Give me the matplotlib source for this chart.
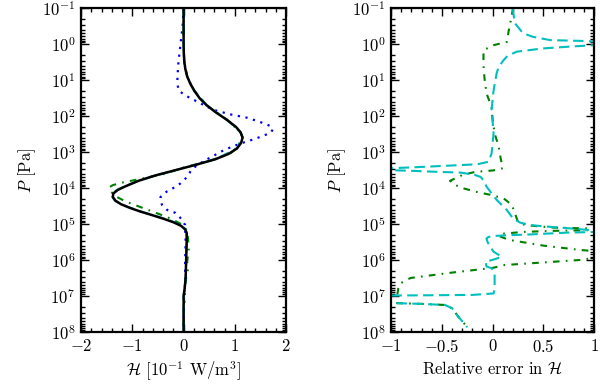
import numpy as np
import matplotlib
matplotlib.use("Agg")
import matplotlib.pyplot as plt
from matplotlib.ticker import MultipleLocator, FixedLocator, LogLocator, NullFormatter

plt.rcParams.update({
    "mathtext.fontset": "cm",
    "font.family": ["cmr10", "DejaVu Serif"],
    "axes.formatter.use_mathtext": True,
    "axes.unicode_minus": True,
    "font.size": 12,
})

# ---------------- data: left panel (heating rate, 1e-1 W/m^3) ----------------
ref_logp = [-1.0, -0.5, 0.0, 0.3, 0.5, 0.7, 0.9, 1.1, 1.3, 1.5, 1.7, 1.9, 2.1, 2.3,
            2.45, 2.6, 2.75, 2.9, 3.05, 3.2, 3.35, 3.5, 3.65, 3.8, 3.95, 4.05, 4.15,
            4.25, 4.35, 4.45, 4.55, 4.65, 4.75, 4.85, 4.95, 5.05, 5.15, 5.25, 5.5,
            6.0, 6.5, 6.8, 7.0, 7.5, 8.0]
ref_H = [0.0, 0.0, 0.0, 0.005, 0.015, 0.035, 0.07, 0.13, 0.21, 0.31, 0.45, 0.63, 0.84,
         1.02, 1.11, 1.15, 1.12, 1.04, 0.88, 0.62, 0.25, -0.15, -0.55, -0.88, -1.13,
         -1.28, -1.37, -1.38, -1.33, -1.22, -1.05, -0.85, -0.62, -0.40, -0.20, -0.05,
         0.03, 0.06, 0.06, 0.05, 0.04, 0.02, 0.0, 0.0, 0.0]

cyan_logp = [-1.0, 0.0, 0.5, 0.9, 1.3, 1.7, 2.1, 2.45, 2.6, 2.9, 3.2, 3.5, 3.65, 3.8,
             3.95, 4.05, 4.15, 4.25, 4.35, 4.45, 4.55, 4.65, 4.75, 4.85, 4.95, 5.05,
             5.15, 5.25, 5.5, 6.0, 6.5, 7.0, 8.0]
cyan_H = [0.0, 0.0, 0.015, 0.07, 0.21, 0.45, 0.84, 1.11, 1.15, 1.04, 0.62, -0.14, -0.54,
          -0.88, -1.14, -1.30, -1.38, -1.39, -1.34, -1.22, -1.04, -0.84, -0.60, -0.38,
          -0.18, -0.04, 0.04, 0.06, 0.06, 0.05, 0.04, 0.0, 0.0]

green_logp = [-1.0, 0.0, 0.5, 0.9, 1.3, 1.7, 2.1, 2.45, 2.6, 2.9, 3.05, 3.2, 3.35, 3.45,
              3.6, 3.67, 3.76, 3.84, 3.92, 3.98, 4.1, 4.25, 4.38, 4.53, 4.7, 4.85, 5.0,
              5.15, 5.3, 5.7, 6.05, 6.3, 6.5, 7.0, 8.0]
green_H = [0.0, 0.0, 0.015, 0.07, 0.21, 0.45, 0.84, 1.11, 1.15, 1.03, 0.9, 0.6, 0.22,
           -0.05, -0.35, -0.59, -0.88, -1.17, -1.38, -1.45, -1.42, -1.30, -1.12, -0.84,
           -0.52, -0.25, -0.05, 0.05, 0.08, 0.10, 0.07, 0.08, 0.05, 0.01, 0.0]

blue_logp = [-1.0, -0.5, 0.0, 0.5, 0.9, 1.1, 1.28, 1.42, 1.55, 1.7, 1.83, 1.95, 2.05,
             2.17, 2.28, 2.37, 2.46, 2.55, 2.64, 2.73, 2.83, 2.95, 3.1, 3.23, 3.37, 3.5,
             3.69, 3.87, 4.0, 4.1, 4.25, 4.35, 4.47, 4.61, 4.69, 4.8, 4.89, 5.03, 5.5,
             6.0, 6.5, 7.0, 7.5, 8.0]
blue_H = [0.0, -0.02, -0.06, -0.10, -0.12, -0.12, -0.10, 0.02, 0.20, 0.40, 0.59, 0.90,
          1.25, 1.50, 1.70, 1.74, 1.70, 1.55, 1.38, 1.18, 0.98, 0.78, 0.59, 0.42, 0.26,
          0.15, 0.07, -0.06, -0.20, -0.33, -0.45, -0.45, -0.42, -0.32, -0.16, -0.08,
          -0.03, 0.03, 0.04, 0.03, 0.03, 0.02, 0.0, 0.0]

# ---------------- data: right panel (relative error) ----------------
cyan_err_logp = [-1.0, -0.85, -0.58, -0.3, -0.2, -0.11, -0.09, -0.05, -0.01, 0.03, 0.07,
                 0.12, 0.21, 0.32, 0.44, 0.63, 0.81, 1.28, 1.83, 2.48, 3.04, 3.27, 3.34,
                 3.38, 3.42, 3.45, 3.47, 3.49, 3.52, 3.55, 3.57, 3.63, 3.69, 3.78, 3.96,
                 4.15, 4.33, 4.61, 4.84, 4.96, 5.03, 5.07, 5.12, 5.17, 5.19, 5.21, 5.24,
                 5.29, 5.31, 5.33, 5.36, 5.4, 5.5, 5.65, 5.77, 5.84, 5.91, 5.98, 6.05,
                 6.18, 6.23, 6.37, 6.79, 6.93, 6.97, 6.98, 6.99, 7.18, 7.2, 7.22, 7.25,
                 7.34, 7.57, 7.8, 7.87]
cyan_err = [0.2, 0.205, 0.22, 0.3, 0.4, 0.57, 0.86, 1.2, 1.2, 1.0, 0.76, 0.5, 0.24, 0.15,
            0.11, 0.06, 0.04, 0.01, -0.01, 0.01, -0.01, -0.04, -0.15, -0.45, -0.75, -1.0,
            -1.2, -1.2, -0.81, -0.55, -0.32, -0.18, -0.12, -0.09, -0.06, -0.01, 0.04,
            0.14, 0.2, 0.27, 0.37, 0.53, 0.76, 0.96, 1.2, 1.2, 0.73, 0.37, 0.17, 0.03,
            -0.04, -0.06, -0.05, -0.02, 0.01, 0.05, 0.09, 0.02, -0.07, -0.06, -0.01,
            0.02, 0.02, 0.01, -0.2, -0.6, -1.2, -1.2, -0.95, -0.7, -0.47, -0.4, -0.34,
            -0.27, -0.25]

green_err_logp = [-1.0, -0.8, -0.39, -0.06, 0.03, 0.17, 0.58, 0.95, 1.37, 1.75, 2.1, 2.48,
                  2.85, 3.18, 3.45, 3.5, 3.52, 3.55, 3.64, 3.8, 3.9, 4.0, 4.1, 4.19, 4.29,
                  4.47, 4.7, 4.94, 5.03, 5.1, 5.14, 5.16, 5.19, 5.22, 5.27, 5.33, 5.44,
                  5.6, 5.72, 5.8, 5.9, 5.94, 6.0, 6.14, 6.22, 6.35, 6.5, 6.65, 6.79, 6.97,
                  7.05, 7.15, 7.2, 7.22, 7.25, 7.34, 7.57, 7.8, 7.87]
green_err = [0.2, 0.19, 0.16, 0.14, 0.01, -0.09, -0.09, -0.08, -0.06, -0.01, 0.0, 0.02,
             0.06, 0.08, 0.1, 0.04, -0.03, -0.17, -0.3, -0.42, -0.38, -0.3, -0.17, -0.02,
             0.11, 0.19, 0.22, 0.25, 0.32, 0.6, 1.2, 1.2, 0.6, 0.3, 0.1, 0.06, 0.16, 0.5,
             0.86, 1.2, 1.2, 1.0, 0.86, 0.12, 0.0, -0.4, -0.81, -0.91, -0.93, -0.94,
             -1.2, -1.2, -0.93, -0.7, -0.47, -0.4, -0.34, -0.27, -0.25]

left_xticks = [-2, -1, 0, 1, 2]
left_xticklabels = ["$-2$", "$-1$", "$0$", "$1$", "$2$"]
right_xticks = [-1, -0.5, 0, 0.5, 1]
right_xticklabels = ["$-1$", "$-0.5$", "$0$", "$0.5$", "$1$"]
yexp = list(range(-1, 9))

# ---------------- styles ----------------
LW = 1.5
dash_c = (0, (5, 2.6))
dashdot_g = (0, (3.2, 3.0, 0.8, 3.0))
dot_b = (0, (1.0, 2.5))

def P(lp):
    return 10.0 ** np.asarray(lp)

fig = plt.figure(figsize=(6.0, 3.86), dpi=100)
axL = fig.add_axes([0.135, 0.140, 0.342, 0.839])
axR = fig.add_axes([0.652, 0.140, 0.338, 0.839])

axL.plot(blue_H, P(blue_logp), color="b", lw=1.6, linestyle=dot_b)
axL.plot(green_H, P(green_logp), color="g", lw=LW, linestyle=dashdot_g)
axL.plot(cyan_H, P(cyan_logp), color="c", lw=LW, linestyle=dash_c)
axL.plot(ref_H, P(ref_logp), color="k", lw=1.8)

axR.plot(green_err, P(green_err_logp), color="g", lw=LW, linestyle=dashdot_g)
axR.plot(cyan_err, P(cyan_err_logp), color="c", lw=LW, linestyle=dash_c)

for ax in (axL, axR):
    ax.set_yscale("log")
    ax.set_ylim(1e8, 1e-1)
    ax.yaxis.set_major_locator(FixedLocator([10.0 ** e for e in yexp]))
    ax.yaxis.set_minor_locator(LogLocator(base=10, subs=np.arange(2, 10), numticks=20))
    ax.yaxis.set_minor_formatter(NullFormatter())
    ax.set_yticklabels([r"$10^{%d}$" % e for e in yexp])
    ax.tick_params(which="both", direction="in", top=True, right=True, width=1.0,
                   labelsize=12)
    ax.tick_params(which="major", length=6, pad=4)
    ax.tick_params(which="minor", length=3)
    for s in ax.spines.values():
        s.set_linewidth(1.6)
    ax.set_ylabel(r"$P$ [Pa]", fontsize=12, labelpad=3)

axL.set_xlim(-2, 2)
axL.set_xticks(left_xticks)
axL.set_xticklabels(left_xticklabels)
axL.xaxis.set_minor_locator(MultipleLocator(0.2))
axL.set_xlabel(r"$\mathcal{H}$ [$10^{-1}$ W/m$^3$]", fontsize=12, labelpad=4)

axR.set_xlim(-1, 1)
axR.set_xticks(right_xticks)
axR.set_xticklabels(right_xticklabels)
axR.xaxis.set_minor_locator(MultipleLocator(0.1))
axR.set_xlabel(r"Relative error in $\mathcal{H}$", fontsize=12, labelpad=4)

fig.savefig("out.png", dpi=100)
